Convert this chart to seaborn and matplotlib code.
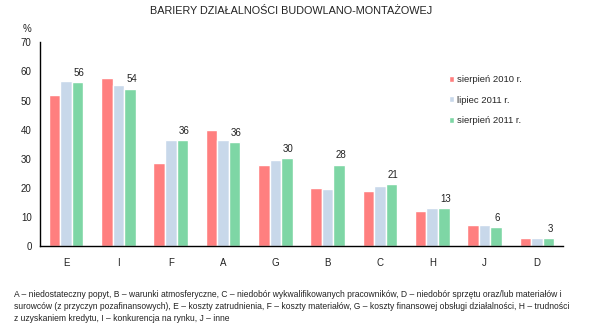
import matplotlib
matplotlib.use("Agg")
import matplotlib.pyplot as plt
import seaborn as sns
import pandas as pd

categories = ["E", "I", "F", "A", "G", "B", "C", "H", "J", "D"]
series_names = ["sierpień 2010 r.", "lipiec 2011 r.", "sierpień 2011 r."]
s2010_aug = [52.0, 57.9, 28.7, 39.9, 27.7, 19.9, 18.8, 12.2, 7.2, 2.6]
s2011_jul = [56.8, 55.2, 36.5, 36.3, 29.7, 19.6, 20.7, 13.0, 7.2, 2.6]
s2011_aug = [56.4, 54.1, 36.4, 35.6, 30.3, 27.9, 21.3, 13.0, 6.4, 2.6]
label_values = [56, 54, 36, 36, 30, 28, 21, 13, 6, 3]
yticks = [0, 10, 20, 30, 40, 50, 60, 70]
colors = ["#FF7F7F", "#C8D8EA", "#7ED6A5"]

title = "BARIERY DZIAŁALNOŚCI BUDOWLANO-MONTAŻOWEJ"
footnote = ("A – niedostateczny popyt, B – warunki atmosferyczne, C – niedobór wykwalifikowanych pracowników, D – niedobór sprzętu oraz/lub materiałów i\n"
            "surowców (z przyczyn pozafinansowych), E – koszty zatrudnienia, F – koszty materiałów, G – koszty finansowej obsługi działalności, H – trudności\n"
            "z uzyskaniem kredytu, I – konkurencja na rynku, J – inne")

rows = []
for name, vals in zip(series_names, [s2010_aug, s2011_jul, s2011_aug]):
    for c, v in zip(categories, vals):
        rows.append({"cat": c, "series": name, "val": v})
df = pd.DataFrame(rows)

sns.set_theme(style="white")
plt.rcParams["font.family"] = ["Liberation Sans", "DejaVu Sans"]

fig = plt.figure(figsize=(6.0, 3.29), dpi=100)
ax = fig.add_axes([40 / 600, 1 - 246 / 329, 523 / 600, 203.6 / 329])

sns.barplot(data=df, x="cat", y="val", hue="series", order=categories,
            hue_order=series_names, palette=colors, width=0.66, gap=0,
            saturation=1, ax=ax, legend=True)

ax.set_ylim(0, 70)
ax.set_xlim(-0.5, len(categories) - 0.5)
ax.set_yticks(yticks)
ax.set_yticklabels([str(t) for t in yticks], fontsize=7, color="#222222")
ax.tick_params(axis="x", labelsize=7, colors="#222222", length=0, pad=9)
ax.tick_params(axis="y", length=0, pad=6)
ax.set_xlabel("")
ax.set_ylabel("")
for s in ["top", "right"]:
    ax.spines[s].set_visible(False)
for s in ["left", "bottom"]:
    ax.spines[s].set_color("black")
    ax.spines[s].set_linewidth(1.0)

# labels above the last series
cont = ax.containers[2]
for bar, lab in zip(cont, label_values):
    ax.text(bar.get_x() + bar.get_width() / 2 + 0.03, bar.get_height() + 1.5, str(lab),
            ha="center", va="bottom", fontsize=7, color="#222222")

leg = ax.legend(loc="upper left", bbox_to_anchor=(0.765, 0.88), frameon=False,
                fontsize=6.8, handlelength=0.55, handleheight=0.55, handletextpad=0.35,
                labelspacing=1.2)

fig.text(0.485, 1 - 11 / 329, title, ha="center", va="center", fontsize=7.8, color="#222222")
fig.text(27 / 600, 1 - 29 / 329, "%", ha="center", va="center", fontsize=7, color="#222222")
fig.text(14 / 600, 1 - 290 / 329, footnote, ha="left", va="top", fontsize=6.15,
         color="#222222", linespacing=1.45)

fig.savefig("out.png", dpi=100, facecolor="white")
